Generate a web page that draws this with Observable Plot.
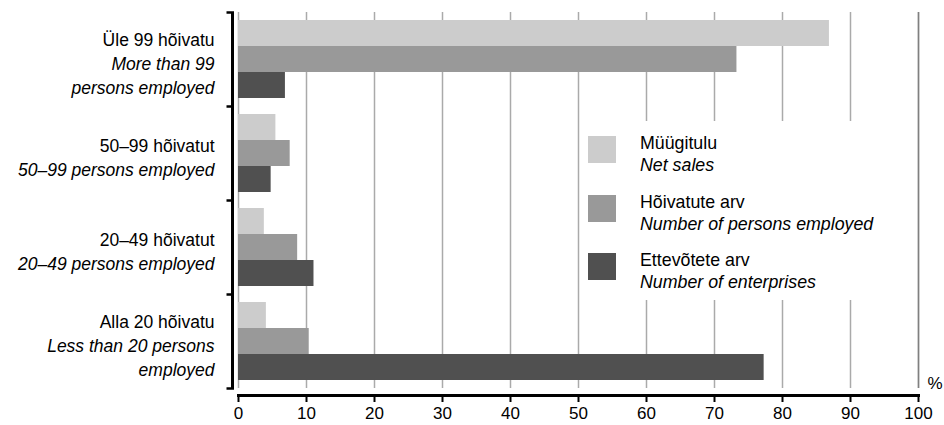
<!DOCTYPE html>
<html><head><meta charset="utf-8">
<script src="https://cdn.jsdelivr.net/npm/d3@7"></script>
<script src="https://cdn.jsdelivr.net/npm/@observablehq/plot@0.6"></script>
<style>
body{margin:0;background:#fff;font-family:"Liberation Sans",Arial,sans-serif;}
#chart{position:relative;width:944px;height:425px;}
#legend{position:absolute;left:581px;top:121px;width:320px;height:179px;background:#fff;}
.sw{position:absolute;left:7px;width:28px;height:27px;}
.lbl{position:absolute;left:59px;font-size:17.8px;line-height:22px;color:#000;white-space:nowrap;}
.lbl i{font-style:italic;}
</style></head><body>
<div id="chart"></div>
<script>
// Categories (groups by size class)
const groupsEt = ["Üle 99 hõivatu", "50–99 hõivatut", "20–49 hõivatut", "Alla 20 hõivatu"];
const groupsEn = ["More than 99\npersons employed", "50–99 persons employed", "20–49 persons employed", "Less than 20 persons\nemployed"];
// Series
const seriesEt = ["Müügitulu", "Hõivatute arv", "Ettevõtete arv"];
const seriesEn = ["Net sales", "Number of persons employed", "Number of enterprises"];
// Values, % (one per group)
const netSales = [86.9, 5.5, 3.8, 4.1];
const personsEmployed = [73.3, 7.6, 8.7, 10.4];
const enterprises = [6.9, 4.8, 11.1, 77.3];
// Axis ticks
const xTicks = [0, 10, 20, 30, 40, 50, 60, 70, 80, 90, 100];
const colors = ["#cccccc", "#999999", "#505050"];

const seriesValues = [netSales, personsEmployed, enterprises];
const rows = [];
groupsEt.forEach((g, gi) => seriesEt.forEach((s, si) => rows.push({group: g, series: s, value: seriesValues[si][gi]})));

const labelRows = groupsEt.map((g, i) => {
  const enLines = groupsEn[i].split("\n");
  return {
    group: g,
    et: g + "\n\u00a0".repeat(enLines.length),
    en: "\u00a0\n" + groupsEn[i]
  };
});

const tickSym = {draw(ctx) { ctx.moveTo(-6, 0); ctx.lineTo(1.5, 0); }};
const font = "'Liberation Sans', Arial, sans-serif";
const labelSize = 17.5;

const plot = Plot.plot({
  width: 944, height: 425,
  marginLeft: 238, marginRight: 26, marginTop: 11, marginBottom: 37,
  style: {fontFamily: font, fontSize: "17px", color: "#000", background: "#fff"},
  x: {domain: [0, 100], axis: null},
  y: {domain: seriesEt, paddingInner: 0, paddingOuter: 0.245, axis: null},
  fy: {domain: groupsEt, padding: 0, axis: null},
  color: {domain: seriesEt, range: colors},
  marks: [
    Plot.ruleX(xTicks, {stroke: "#aaaaaa", strokeWidth: 1.5}),
    Plot.ruleX([100], {stroke: "#808080", strokeWidth: 1.5}),
    Plot.barX(rows, {x: "value", y: "series", fy: "group", fill: "series"}),
    Plot.ruleX([0], {dx: -6, stroke: "#000", strokeWidth: 3}),
    Plot.dot(groupsEt, {fy: d => d, frameAnchor: "top-left", dx: -6, symbol: tickSym, stroke: "#000", strokeWidth: 2.5, fill: "none"}),
    Plot.dot([groupsEt[groupsEt.length - 1]], {fy: d => d, frameAnchor: "bottom-left", dx: -6, symbol: tickSym, stroke: "#000", strokeWidth: 2.5, fill: "none"}),
    Plot.frame({anchor: "bottom", facetAnchor: "bottom", dy: 7, stroke: "#000", strokeWidth: 3}),
    Plot.axisX({ticks: xTicks, tickSize: 7, dy: 7, tickPadding: 4, strokeWidth: 2, fontSize: 17, label: null, tickFormat: d => String(d)}),
    Plot.text(labelRows, {fy: "group", text: "et", frameAnchor: "left", textAnchor: "end", lineAnchor: "middle", lineHeight: 24 / labelSize, dx: -24, dy: 3, fontSize: labelSize, fill: "#000"}),
    Plot.text(labelRows, {fy: "group", text: "en", frameAnchor: "left", textAnchor: "end", lineAnchor: "middle", lineHeight: 24 / labelSize, dx: -24, dy: 3, fontSize: labelSize, fontStyle: "italic", fill: "#000"}),
    Plot.text(["%"], {fy: () => groupsEt[groupsEt.length - 1], frameAnchor: "bottom-right", textAnchor: "start", lineAnchor: "bottom", dx: 9, fontSize: 17, fill: "#000"})
  ]
});

const chart = document.getElementById("chart");
chart.appendChild(plot);

const legend = document.createElement("div");
legend.id = "legend";
seriesEt.forEach((s, i) => {
  const top = 15 + Math.round(58.5 * i);
  const sw = document.createElement("div");
  sw.className = "sw";
  sw.style.top = top + "px";
  sw.style.background = colors[i];
  const lbl = document.createElement("div");
  lbl.className = "lbl";
  lbl.style.top = (top - 4) + "px";
  lbl.innerHTML = s + "<br><i>" + seriesEn[i] + "</i>";
  legend.appendChild(sw);
  legend.appendChild(lbl);
});
chart.appendChild(legend);
</script>
</body></html>
